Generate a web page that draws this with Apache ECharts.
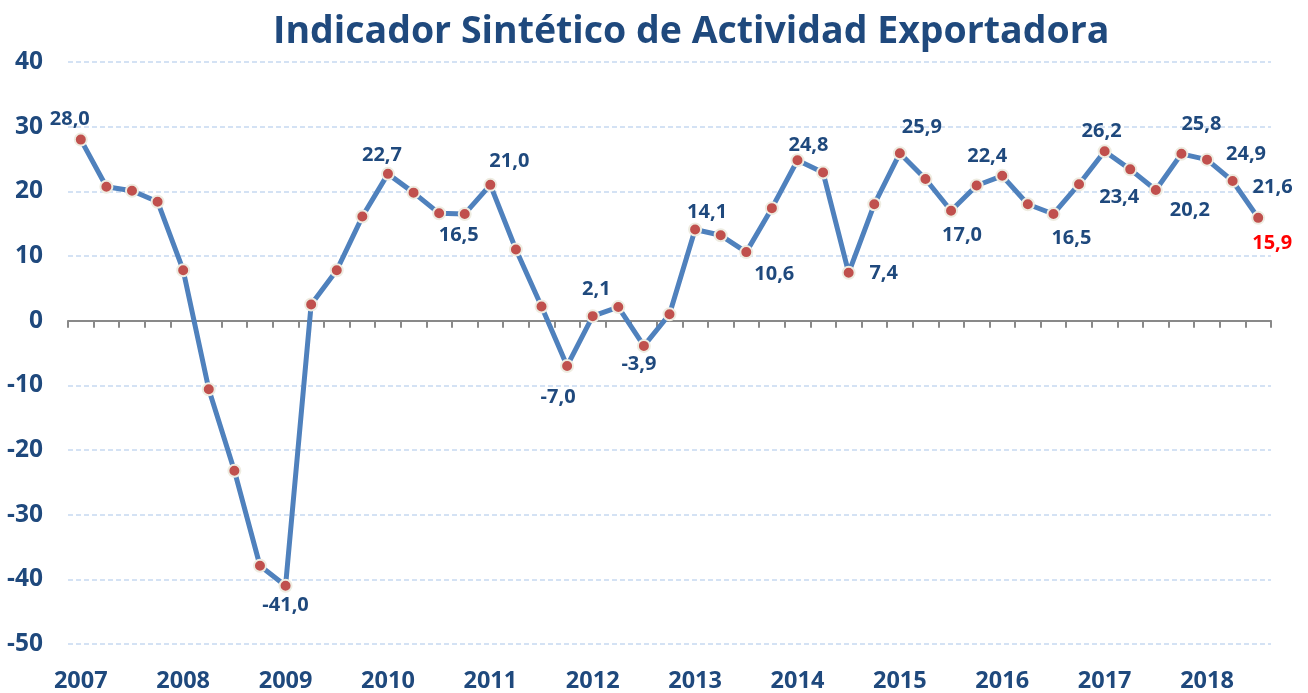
<!DOCTYPE html>
<html>
<head>
<meta charset="utf-8">
<script src="https://cdn.jsdelivr.net/npm/echarts@6/dist/echarts.min.js"></script>
<style>
	html, body { margin: 0; padding: 0; background: #fff; }
	#chart { width: 1308px; height: 693px; }
</style>
</head>
<body>
<div id="chart"></div>
<script>
// quarterly, 2007 Q1 .. 2018 Q3
const years = ['2007', '2008', '2009', '2010', '2011', '2012', '2013', '2014', '2015', '2016', '2017', '2018']
const quarters = []
years.forEach((y) => ['I', 'II', 'III', 'IV'].forEach((q) => quarters.push(y + '-' + q)))
quarters.length = 47

const values = [
	28.0, 20.7, 20.1, 18.4, 7.8, -10.6, -23.2, -37.9,
	-41.0, 2.5, 7.8, 16.1, 22.7, 19.8, 16.6, 16.5,
	21.0, 11.0, 2.2, -7.0, 0.7, 2.1, -3.9, 1.0,
	14.1, 13.2, 10.6, 17.4, 24.8, 22.9, 7.4, 18.0,
	25.9, 21.9, 17.0, 20.9, 22.4, 18.0, 16.5, 21.1,
	26.2, 23.4, 20.2, 25.8, 24.9, 21.6, 15.9,
]

// which points carry a value label, and where the label sits relative to the point
const labelOffsets = {
	0: [-11, -20], 8: [0, 19], 12: [-6, -19], 15: [-6, 21], 16: [19, -24],
	19: [-9, 31], 21: [-22, -18], 22: [-5, 18], 24: [12, -17], 26: [28, 22],
	28: [11, -15], 30: [35, 0], 32: [22, -26], 34: [11, 25], 36: [-15, -20],
	38: [18, 24], 40: [-3, -20], 41: [-11, 28], 42: [34, 20], 43: [20, -30],
	44: [39, -5], 45: [40, 6], 46: [14, 25],
}

const navy = '#1f497d'
const font = '"Open Sans", sans-serif'

const seriesData = values.map((v, i) => {
	const off = labelOffsets[i]
	if (!off) return v
	return {
		value: v,
		label: {
			show: true,
			position: 'inside',
			offset: off,
			color: i === values.length - 1 ? '#ff0000' : navy,
		},
	}
})

const chart = echarts.init(document.getElementById('chart'), null, { renderer: 'canvas' })

chart.setOption({
	animation: false,
	title: {
		text: 'Indicador Sintético de Actividad Exportadora',
		left: 273,
		top: 13,
		padding: 0,
		textStyle: { color: navy, fontSize: 37.5, fontWeight: 'bold', fontFamily: font },
	},
	grid: { left: 68, right: 37, top: 62, bottom: 46 },
	xAxis: [
		{
			type: 'category',
			data: quarters,
			position: 'bottom',
			axisLine: { show: false, onZero: false },
			axisTick: { show: false },
			axisLabel: {
				interval: 3,
				color: navy,
				fontSize: 23.5,
				fontWeight: 'bold',
				fontFamily: font,
				margin: 25,
				formatter: (v) => v.slice(0, 4),
			},
			splitLine: { show: false },
		},
		{
			type: 'category',
			data: quarters,
			position: 'bottom',
			axisLine: { show: true, onZero: true, lineStyle: { color: '#898989', width: 2 } },
			axisTick: { show: true, interval: 0, length: 7, lineStyle: { color: '#898989', width: 2 } },
			axisLabel: { show: false },
			splitLine: { show: false },
		},
	],
	yAxis: {
		type: 'value',
		min: -50,
		max: 40,
		interval: 10,
		axisLine: { show: false },
		axisTick: { show: false },
		axisLabel: {
			color: navy,
			fontSize: 24.5,
			fontWeight: 'bold',
			fontFamily: font,
			margin: 25,
		},
		splitLine: { lineStyle: { color: '#c6d9f1', type: [5, 3], width: 1.5 } },
	},
	series: [
		{
			type: 'line',
			xAxisIndex: 1,
			data: seriesData,
			symbol: 'circle',
			symbolSize: 12,
			lineStyle: { color: '#4f81bd', width: 5 },
			itemStyle: { color: '#c0504d', borderColor: '#eeece1', borderWidth: 2 },
			label: {
				show: false,
				fontSize: 20,
				fontWeight: 'bold',
				fontFamily: font,
				formatter: (p) => p.value.toFixed(1).replace('.', ','),
			},
			z: 5,
		},
	],
})
</script>
</body>
</html>
